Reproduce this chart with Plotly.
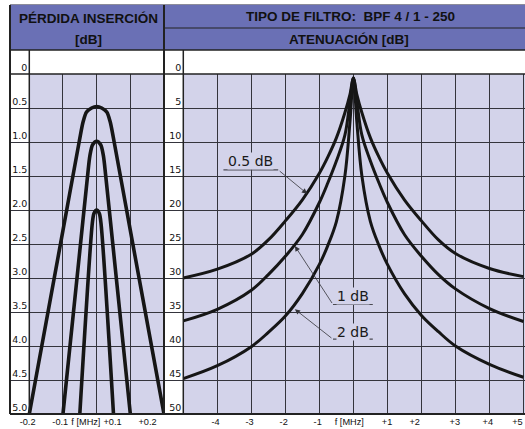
import plotly.graph_objects as go

# ---------------- data ----------------
# Insertion loss panel (left): frequency offset [MHz] vs loss [dB]
f_il_05 = [-0.2, -0.1, -0.052, -0.04, -0.03, -0.015, 0, 0.015, 0.03, 0.04, 0.052, 0.1, 0.2]
il_05 = [5.0, 2.3, 1.0, 0.7, 0.56, 0.5, 0.48, 0.5, 0.56, 0.7, 1.0, 2.3, 5.0]

f_il_1 = [-0.1, -0.05, -0.027, -0.02, -0.012, 0, 0.012, 0.02, 0.027, 0.05, 0.1]
il_1 = [5.0, 2.6, 1.5, 1.2, 1.04, 0.99, 1.04, 1.2, 1.5, 2.6, 5.0]

f_il_2 = [-0.05, -0.013, -0.008, 0, 0.008, 0.013, 0.05]
il_2 = [5.0, 2.2, 2.05, 2.0, 2.05, 2.2, 5.0]

# Attenuation panel (right): frequency offset [MHz] vs attenuation [dB]
f_att = [-5, -4, -3, -2.5, -2, -1.5, -1, -0.75, -0.5, -0.25, -0.1, 0,
         0.1, 0.25, 0.5, 0.75, 1, 1.5, 2, 2.5, 3, 4, 5]
att_05 = [30.0, 28.7, 26.5, 24.4, 21.6, 18.5, 14.6, 12.2, 9.4, 5.7, 3.0, 0.6,
          3.0, 5.7, 9.4, 12.2, 14.6, 18.5, 21.6, 24.4, 26.4, 28.6, 29.8]
att_1 = [36.3, 34.6, 31.8, 29.5, 26.8, 23.6, 18.9, 16.0, 12.8, 9.0, 4.0, 0.6,
         4.0, 9.0, 12.8, 16.0, 18.9, 23.6, 26.8, 29.5, 31.6, 34.5, 36.4]
att_2 = [44.8, 42.9, 40.1, 38.0, 35.6, 32.3, 28.0, 25.2, 21.7, 15.0, 7.0, 0.6,
         7.0, 15.0, 21.7, 25.2, 28.0, 32.3, 35.5, 37.9, 40.0, 42.7, 44.6]

curve_labels = ["0.5 dB", "1 dB", "2 dB"]

# axis ticks
il_grid = [-0.2, -0.1, 0, 0.1, 0.2]
il_label_pos = [-0.205, -0.108, -0.032, 0.047, 0.151]
il_label_text = ["-0.2", "-0.1", "f [MHz]", "+0.1", "+0.2"]
il_y_ticks = [0, 0.5, 1.0, 1.5, 2.0, 2.5, 3.0, 3.5, 4.0, 4.5, 5.0]
il_y_text = ["0", "0.5", "1.0", "1.5", "2.0", "2.5", "3.0", "3.5", "4.0", "4.5", "5.0"]

att_grid = [-5, -4, -3, -2, -1, 0, 1, 2, 3, 4, 5]
att_label_pos = [-4.05, -3.05, -2.05, -1.05, -0.12, 0.99, 1.8, 2.98, 3.95, 4.82]
att_label_text = ["-4", "-3", "-2", "-1", "f [MHz]", "+1", "+2", "+3", "+4", "+5"]
att_y_ticks = [0, 5, 10, 15, 20, 25, 30, 35, 40, 45, 50]
att_y_text = [str(v) for v in att_y_ticks]

# ---------------- styling ----------------
W, H = 525, 429
def px(x):
    return x / W
def py(y):
    return 1 - y / H

HEAD = "#6a70b5"
BG = "#d3d3ea"
GRID = "#34343c"
INK = "#161616"
BORDER = "#222222"
HFONT = dict(family="Liberation Sans, Arial, sans-serif", size=13.5, color="#111111", weight="bold")
TICKY = dict(family="DejaVu Sans, Liberation Sans", size=9.5, color="#111111")
TICKX = dict(family="Liberation Sans, Arial", size=9.2, color="#111111")
ANFONT = dict(family="DejaVu Sans, Liberation Sans", size=14, color="#1a1a1a")

il_range = [-0.2573, 0.2]
att_range = [-5.567, 5.044]

fig = go.Figure()

for f, v in [(f_il_05, il_05), (f_il_1, il_1), (f_il_2, il_2)]:
    fig.add_trace(go.Scatter(x=f, y=v, mode="lines", xaxis="x", yaxis="y",
                             line=dict(color=INK, width=3.6, shape="spline", smoothing=0.8),
                             showlegend=False, hoverinfo="skip"))

for v in [att_05, att_1, att_2]:
    fig.add_trace(go.Scatter(x=f_att, y=v, mode="lines", xaxis="x2", yaxis="y2",
                             line=dict(color=INK, width=3.0, shape="spline", smoothing=1.0),
                             showlegend=False, hoverinfo="skip"))

ydom = [py(414), py(74)]
minor_common = dict(ticks="", showgrid=True, gridcolor=GRID, gridwidth=1, tickmode="array")

fig.update_layout(
    width=W, height=H, autosize=False,
    margin=dict(l=0, r=0, t=0, b=0, pad=0, autoexpand=False),
    paper_bgcolor="white",
    plot_bgcolor=BG,
    showlegend=False,
    hovermode=False,
    xaxis=dict(domain=[px(10), px(164)], range=il_range, anchor="y", automargin=False,
               tickmode="array", tickvals=il_label_pos, ticktext=il_label_text, tickangle=0,
               ticks="", showgrid=False, zeroline=False, showline=False,
               tickfont=TICKX, ticklabelstandoff=1, ticklabeloverflow="allow",
               minor=dict(tickvals=il_grid, **minor_common)),
    yaxis=dict(domain=ydom, range=[5.0, 0], anchor="free", position=px(29.3), automargin=False,
               tickmode="array", tickvals=il_y_ticks, ticktext=il_y_text,
               ticklabelposition="outside top", ticks="", ticklabelstandoff=2,
               showgrid=True, gridcolor=GRID, gridwidth=1, zeroline=False, showline=False,
               tickfont=TICKY),
    xaxis2=dict(domain=[px(164), 1.0], range=att_range, anchor="y2", automargin=False,
                tickmode="array", tickvals=att_label_pos, ticktext=att_label_text, tickangle=0,
                ticks="", showgrid=False, zeroline=False, showline=False,
                tickfont=TICKX, ticklabelstandoff=1, ticklabeloverflow="allow",
                minor=dict(tickvals=att_grid, **minor_common)),
    yaxis2=dict(domain=ydom, range=[50, 0], anchor="free", position=px(183.3), automargin=False,
                tickmode="array", tickvals=att_y_ticks, ticktext=att_y_text,
                ticklabelposition="outside top", ticks="", ticklabelstandoff=2,
                showgrid=True, gridcolor=GRID, gridwidth=1, zeroline=False, showline=False,
                tickfont=TICKY),
)

shapes = []
# white label columns (under grid lines)
shapes.append(dict(type="rect", xref="x", yref="y", x0=il_range[0], x1=il_grid[0], y0=0, y1=5,
                   fillcolor="white", line=dict(width=0), layer="below"))
shapes.append(dict(type="rect", xref="x2", yref="y2", x0=att_range[0], x1=att_grid[0], y0=0, y1=50,
                   fillcolor="white", line=dict(width=0), layer="below"))
# header background
shapes.append(dict(type="rect", xref="paper", yref="paper", x0=px(10), x1=1.0, y0=py(50), y1=py(5),
                   fillcolor=HEAD, line=dict(width=0), layer="below"))

def hline(y, x0, x1, w=1.5, c=BORDER):
    shapes.append(dict(type="line", xref="paper", yref="paper", x0=px(x0), x1=px(x1),
                       y0=py(y), y1=py(y), line=dict(color=c, width=w)))
def vline(x, y0, y1, w=1.5, c=BORDER):
    shapes.append(dict(type="line", xref="paper", yref="paper", x0=px(x), x1=px(x),
                       y0=py(y0), y1=py(y1), line=dict(color=c, width=w)))

hline(4.5, 10, 525, 1, "#8c8c9a")
hline(28, 164, 525, 1.2)
hline(50, 10, 525, 1.6)
hline(74, 10, 525, 1.6)
hline(414, 10, 525, 2)
vline(10, 5, 414, 2)
vline(164, 5, 414, 2)
vline(29.3, 50, 414, 1.5)
vline(183.3, 50, 414, 1.5)

# label underlines (attenuation panel)
UL = "#4a4a52"
for (x0, x1, y) in [(-3.82, -2.21, 14.1), (-0.6, 0.57, 33.9), (-0.6, 0.57, 39.0)]:
    shapes.append(dict(type="line", xref="x2", yref="y2", x0=x0, x1=x1, y0=y, y1=y,
                       line=dict(color=UL, width=1.2)))

annotations = [
    dict(text="PÉRDIDA INSERCIÓN", x=px(88), y=py(18), xref="paper", yref="paper",
         showarrow=False, font=HFONT, xanchor="center", yanchor="middle"),
    dict(text="[dB]", x=px(88), y=py(40), xref="paper", yref="paper",
         showarrow=False, font=HFONT, xanchor="center", yanchor="middle"),
    dict(text="TIPO DE FILTRO:\u00a0\u00a0BPF 4 / 1 - 250", x=px(350), y=py(17),
         xref="paper", yref="paper", showarrow=False, font=HFONT,
         xanchor="center", yanchor="middle"),
    dict(text="ATENUACIÓN [dB]", x=px(349), y=py(40), xref="paper", yref="paper",
         showarrow=False, font=HFONT, xanchor="center", yanchor="middle"),
]

# curve labels with leader arrows
label_spots = [(-3.03, 12.8), (0.0, 32.6), (0.0, 37.9)]
arrow_tails = [(-2.21, 14.1), (-0.6, 33.9), (-0.6, 39.0)]
arrow_tips = [(-1.36, 17.6), (-1.72, 25.3), (-1.72, 34.6)]
for lab, (tx, ty), (ax, ay), (hx, hy) in zip(curve_labels, label_spots, arrow_tails, arrow_tips):
    annotations.append(dict(text=lab, x=tx, y=ty, xref="x2", yref="y2", showarrow=False,
                            font=ANFONT, bgcolor=BG, borderpad=0,
                            xanchor="center", yanchor="middle"))
    annotations.append(dict(text="", x=hx, y=hy, xref="x2", yref="y2",
                            ax=ax, ay=ay, axref="x2", ayref="y2",
                            showarrow=True, arrowhead=2, arrowsize=1.3, arrowwidth=0.8,
                            arrowcolor="#333338", standoff=0, startstandoff=0))

fig.update_layout(shapes=shapes, annotations=annotations)

fig.write_html("out.html",
               config={"displayModeBar": False, "staticPlot": True},
               post_script="document.body.style.margin='0px';"
                           "document.body.style.overflow='hidden';")
